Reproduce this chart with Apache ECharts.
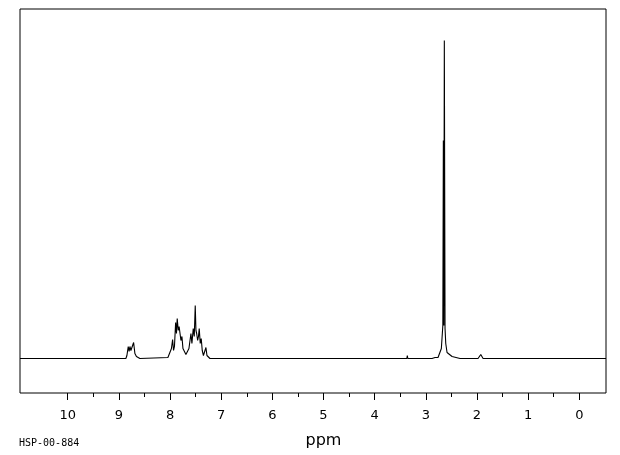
<!DOCTYPE html>
<html>
<head>
<meta charset="utf-8">
<script src="https://cdn.jsdelivr.net/npm/echarts@6/dist/echarts.min.js"></script>
<style>
html,body{margin:0;padding:0;background:#fff;}
#chart{width:620px;height:455px;}
</style>
</head>
<body>
<div id="chart"></div>
<script>
// Chemical shift (ppm) and intensity
const shiftPpm = [
  10.93, 8.861, 8.841, 8.815, 8.798, 8.782, 8.763, 8.743, 8.710, 8.685, 8.655, 8.626, 8.587,
  8.040, 8.001, 7.971, 7.948, 7.930, 7.912, 7.889, 7.873, 7.858, 7.838, 7.821, 7.805, 7.785,
  7.766, 7.746, 7.717, 7.688, 7.658, 7.629, 7.610, 7.590, 7.571, 7.545, 7.525, 7.506, 7.492,
  7.478, 7.459, 7.443, 7.428, 7.408, 7.389, 7.369, 7.346, 7.316, 7.297, 7.277, 7.248, 7.219,
  3.372, 3.362, 3.352,
  2.879, 2.821, 2.787, 2.762, 2.723, 2.697, 2.678, 2.668, 2.658, 2.649, 2.639, 2.625, 2.611,
  2.586, 2.547, 2.488, 2.410, 2.332,
  1.980, 1.927, 1.882, -0.52
];
const intensity = [
  0, 0, 3, 12, 7, 12, 8, 6, 16, 5, 2, 1, 0,
  1, 3, 10, 19, 8, 12, 36, 25, 40, 28, 32, 30, 18,
  22, 10, 8, 4, 6, 10, 8, 25, 15, 30, 22, 53, 28,
  25, 18, 22, 30, 15, 20, 8, 3, 4, 11, 3, 1, 0,
  0, 3, 0,
  0, 1, 2, 1, 2, 10, 25, 33, 218, 33, 318, 30, 15,
  6, 4, 2, 1, 0,
  0, 4, 0, 0
];
const tickLabels = ['0','1','2','3','4','5','6','7','8','9','10'];
const axisTitle = 'ppm';
const specId = 'HSP-00-884';

const spectrum = shiftPpm.map((p, i) => [p, intensity[i]]);

const chart = echarts.init(document.getElementById('chart'), null, {renderer: 'canvas'});
chart.setOption({
  animation: false,
  backgroundColor: '#ffffff',
  grid: [
    {left: 20, right: 14, top: 9, height: 384, show: true, borderColor: '#000', borderWidth: 1, backgroundColor: 'transparent'},
    {left: 67.7, right: 40.7, top: 9, height: 384, show: false}
  ],
  xAxis: [
    {type: 'value', gridIndex: 0, inverse: true, min: -0.52, max: 10.93,
     axisLine: {show: false}, axisTick: {show: false}, axisLabel: {show: false}, splitLine: {show: false}},
    {type: 'value', gridIndex: 1, inverse: true, min: 0, max: 10, interval: 1,
     position: 'bottom',
     axisLine: {show: false},
     axisTick: {show: true, inside: false, length: 7, lineStyle: {color: '#000', width: 1}},
     minorTick: {show: true, splitNumber: 2, length: 4, lineStyle: {color: '#000', width: 1}},
     axisLabel: {show: true, margin: 16, color: '#000', fontFamily: 'DejaVu Sans', fontSize: 13,
       formatter: v => tickLabels[Math.round(v)] || ''},
     splitLine: {show: false},
     name: axisTitle, nameLocation: 'middle', nameGap: 40,
     nameTextStyle: {color: '#000', fontFamily: 'DejaVu Sans', fontSize: 16}}
  ],
  yAxis: [
    {type: 'value', gridIndex: 0, min: -34.5, max: 349.5, show: false},
    {type: 'value', gridIndex: 1, min: 0, max: 1, show: false}
  ],
  graphic: [
    {type: 'text', left: 19, top: 438, style: {text: specId, fill: '#000', font: '10px "DejaVu Sans Mono"'}}
  ],
  series: [{
    type: 'line', xAxisIndex: 0, yAxisIndex: 0, data: spectrum,
    smooth: false, sampling: null,
    showSymbol: false, symbol: 'none',
    lineStyle: {color: '#000', width: 1.1}
  }]
});
</script>
</body>
</html>
